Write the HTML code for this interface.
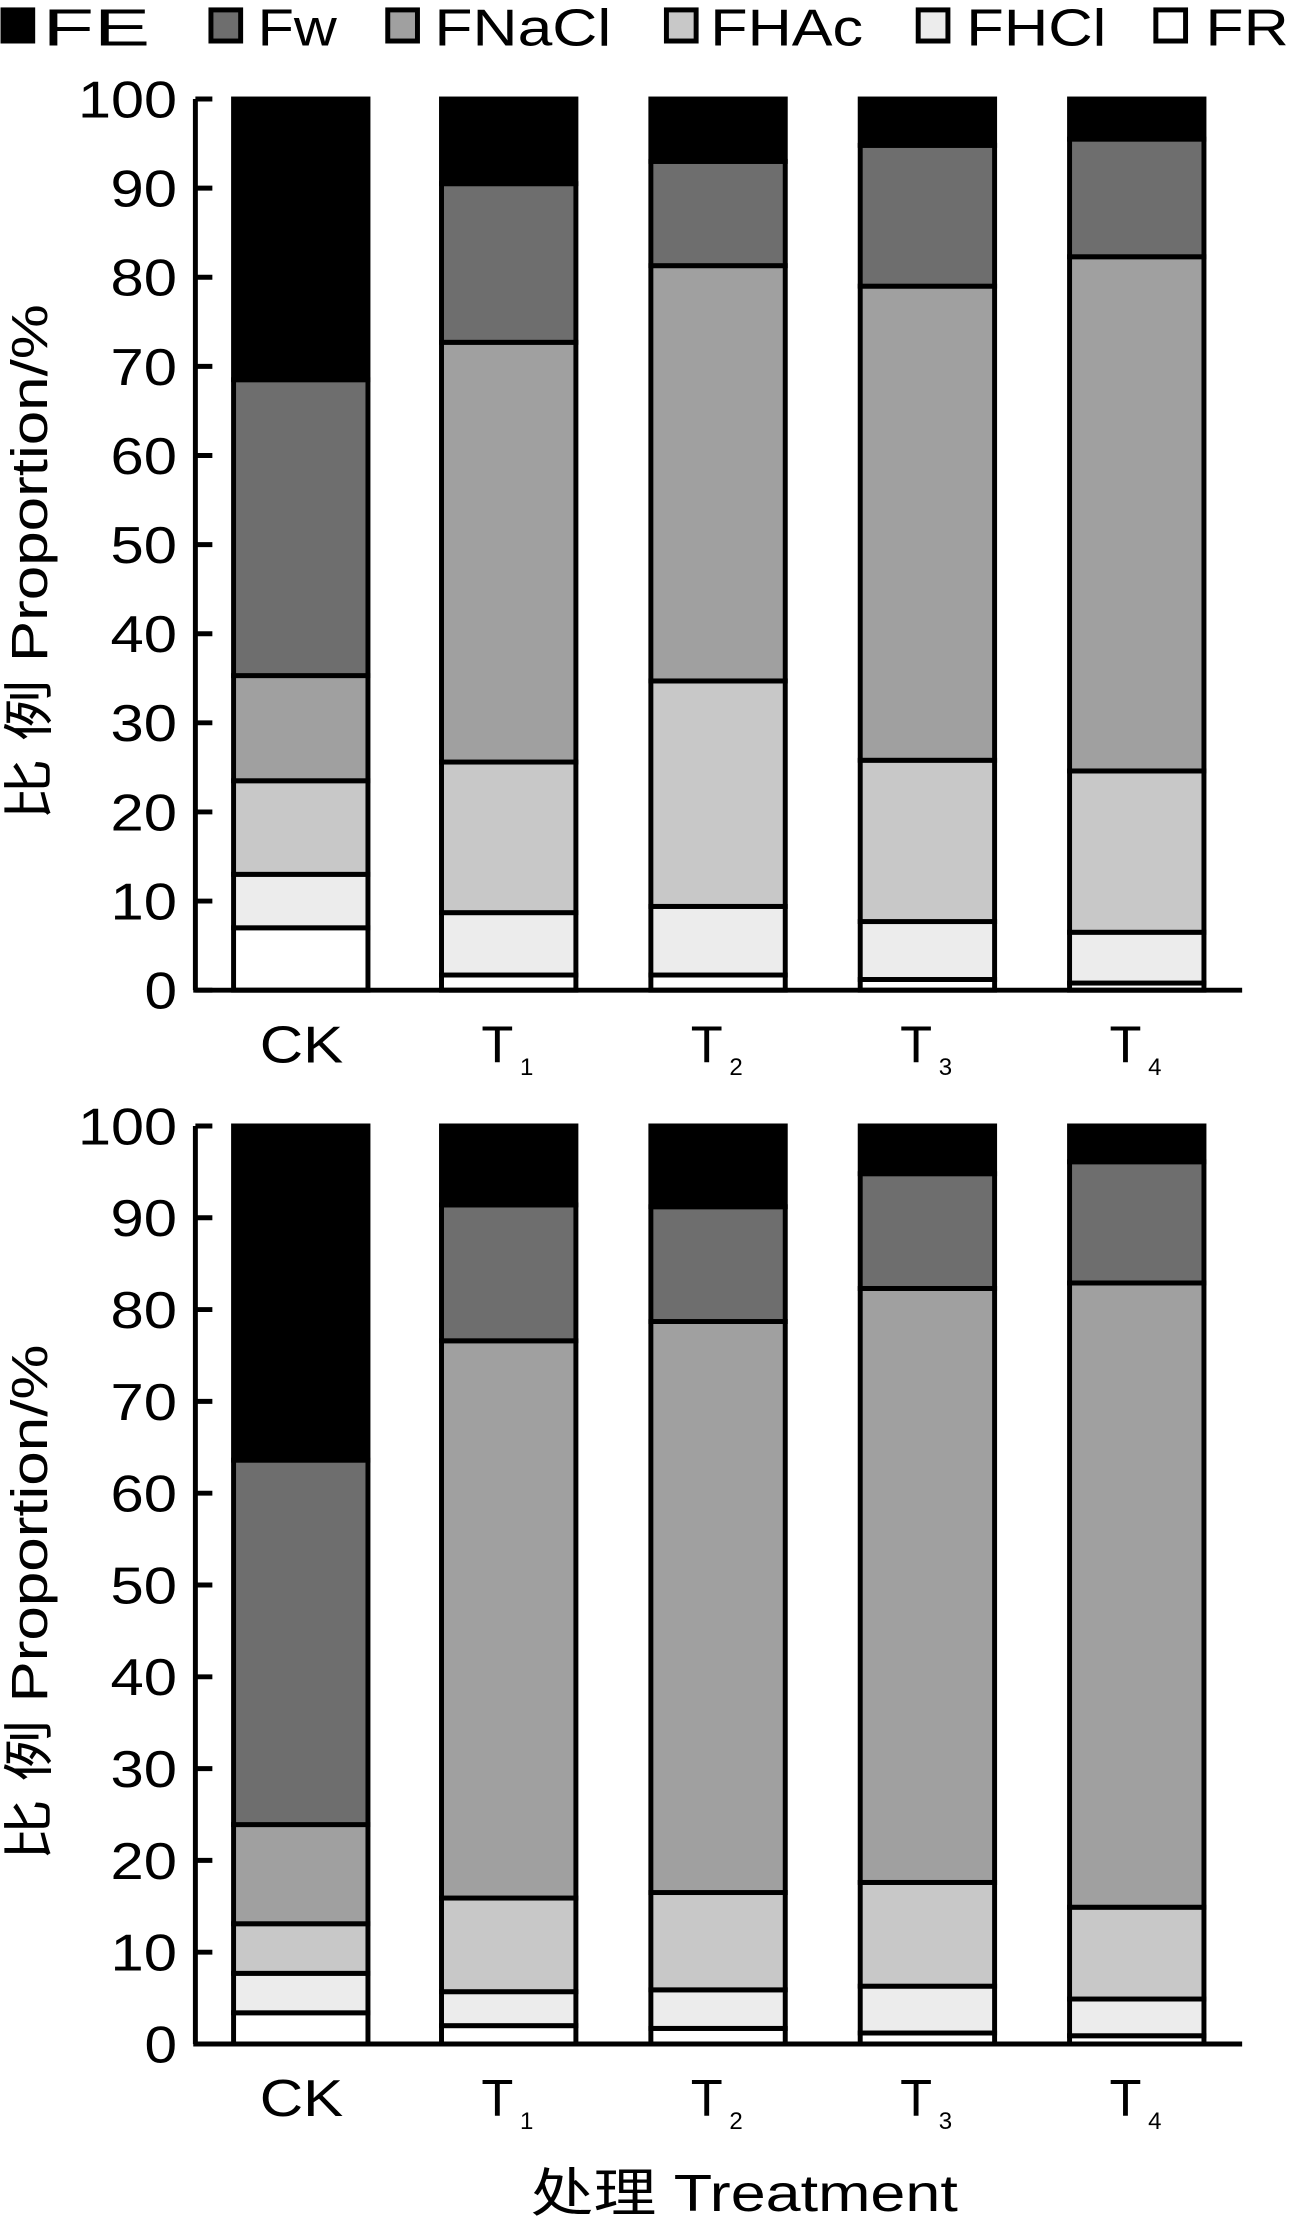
<!DOCTYPE html>
<html><head><meta charset="utf-8"><style>html,body{margin:0;padding:0;background:#fff}svg{display:block}</style></head>
<body>
<svg width="1289" height="2218" viewBox="0 0 911 1568" xmlns="http://www.w3.org/2000/svg" font-family="Liberation Sans, Noto Sans CJK SC, sans-serif">
<g stroke="#000" stroke-width="3.5">
<rect x="2" y="7" width="21" height="22" fill="#000"/>
<rect x="149" y="7" width="21" height="22" fill="#6e6e6e"/>
<rect x="274" y="7" width="21" height="22" fill="#a0a0a0"/>
<rect x="471" y="7" width="21" height="22" fill="#c8c8c8"/>
<rect x="649" y="7" width="21" height="22" fill="#ececec"/>
<rect x="817" y="7" width="21" height="22" fill="#fff"/>
</g>
<g font-size="37" fill="#000">
<text x="30" y="32" textLength="76" lengthAdjust="spacingAndGlyphs">FE</text>
<text x="182" y="32" textLength="56" lengthAdjust="spacingAndGlyphs">Fw</text>
<text x="307" y="32" textLength="125" lengthAdjust="spacingAndGlyphs">FNaCl</text>
<text x="502" y="32" textLength="108" lengthAdjust="spacingAndGlyphs">FHAc</text>
<text x="683" y="32" textLength="99" lengthAdjust="spacingAndGlyphs">FHCl</text>
<text x="852" y="32" textLength="59" lengthAdjust="spacingAndGlyphs">FR</text>
</g>
<g id="charts"></g>
<script>
(function(){
var ns="http://www.w3.org/2000/svg",g=document.getElementById("charts");
var cols=["#fff","#ececec","#c8c8c8","#a0a0a0","#6e6e6e","#000"];
var xs=[165,312,460,608,756],w=95;
var charts=[{t:70,b:700,d:[[7,13,23.5,35.3,68.5],[1.7,8.7,25.6,72.7,90.5],[1.7,9.4,34.7,81.3,93.0],[1.2,7.7,25.8,79.0,94.8],[0.8,6.5,24.6,82.3,95.5]]},
{t:796,b:1445,d:[[3.4,7.7,13.1,23.9,63.6],[2.0,5.7,15.9,76.6,91.4],[1.7,5.9,16.5,78.7,91.2],[1.2,6.3,17.6,82.3,94.8],[0.9,4.9,14.9,82.9,96.1]]}];
function el(n,a,p){var e=document.createElementNS(ns,n);for(var k in a)e.setAttribute(k,a[k]);(p||g).appendChild(e);return e;}
charts.forEach(function(c){
  var s=(c.b-c.t)/100;
  c.d.forEach(function(v,i){
    var vals=[0].concat(v).concat([100]);
    for(var j=0;j<6;j++){
      var y1=c.b-vals[j+1]*s,y2=c.b-vals[j]*s;
      el("rect",{x:xs[i],y:y1,width:w,height:y2-y1,fill:cols[j],stroke:"#000","stroke-width":3.5});
    }
    var cx=xs[i]+w/2;
    if(i==0){var t=el("text",{x:cx-29,y:c.b+51,"font-size":37,textLength:59,lengthAdjust:"spacingAndGlyphs"});t.textContent="CK";}
    else{var t=el("text",{x:cx-8,y:c.b+51,"font-size":37,"text-anchor":"middle"});t.textContent="T";
      var s2=el("text",{x:cx+8,y:c.b+60,"font-size":17});s2.textContent=String(i);}
  });
  el("line",{x1:138,y1:c.t,x2:138,y2:c.b,stroke:"#000","stroke-width":3.5});
  el("line",{x1:136.5,y1:c.b,x2:878,y2:c.b,stroke:"#000","stroke-width":3.5});
  for(var k=0;k<=10;k++){
    var y=c.b-k*10*s;
    el("line",{x1:138,y1:y,x2:150,y2:y,stroke:"#000","stroke-width":3.5});
    var str=String(k*10),L=str.length==3?70:(str.length==2?47:23);
    var t=el("text",{x:125-L,y:y+13,"font-size":37,textLength:L,lengthAdjust:"spacingAndGlyphs"});t.textContent=str;
  }
  var cy=(c.t+c.b)/2+13;
  var t=el("text",{x:-182,y:0,"font-size":36,textLength:365,lengthAdjust:"spacingAndGlyphs",transform:"translate(33,"+cy+") rotate(-90)"});
  t.textContent="比 例 Proportion/%";
});
var t=el("text",{x:375,y:1563,"font-size":37,textLength:302,lengthAdjust:"spacingAndGlyphs"});t.textContent="处理 Treatment";
})();
</script>
</svg>
</body></html>
